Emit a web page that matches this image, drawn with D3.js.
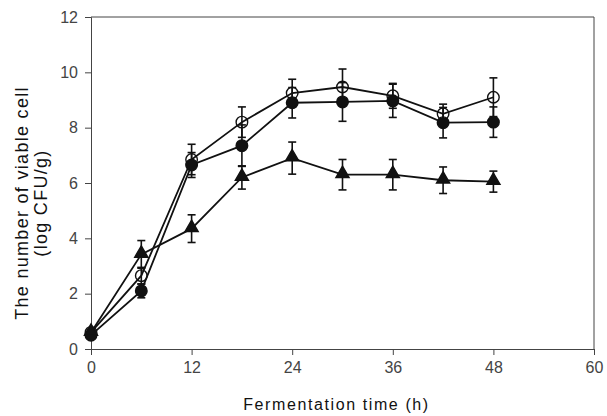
<!DOCTYPE html>
<html>
<head>
<meta charset="utf-8">
<script src="https://cdn.jsdelivr.net/npm/d3@7"></script>
<style>
  body { margin: 0; background: #fff; }
  .axis text { font-family: "Liberation Sans", Arial, sans-serif; font-size: 16px; fill: #444; }
  .axis path, .axis line { stroke: #444; }
  .title { font-family: "Liberation Sans", Arial, sans-serif; fill: #111; }
</style>
</head>
<body>
<div id="chart"></div>
<script>
(function () {

  var hours = [0, 6, 12, 18, 24, 30, 36, 42, 48]
  var xTicks = [0, 12, 24, 36, 48, 60]
  var yTicks = [0, 2, 4, 6, 8, 10, 12]

  // open circles
  var openMean = [0.6, 2.65, 6.85, 8.2, 9.25, 9.47, 9.15, 8.5, 9.1]
  var openErr  = [0.1, 0.3, 0.55, 0.55, 0.5, 0.65, 0.45, 0.35, 0.7]
  // filled circles
  var fillMean = [0.5, 2.1, 6.65, 7.35, 8.9, 8.93, 8.97, 8.18, 8.2]
  var fillErr  = [0.1, 0.25, 0.45, 0.75, 0.55, 0.7, 0.6, 0.55, 0.55]
  // triangles
  var triMean  = [0.6, 3.42, 4.35, 6.2, 6.9, 6.3, 6.3, 6.1, 6.05]
  var triErr   = [0.1, 0.5, 0.5, 0.42, 0.58, 0.55, 0.55, 0.48, 0.38]

  var margin = { top: 17, right: 13, bottom: 67, left: 91 }
  var width = 607 - margin.left - margin.right,
      height = 416 - margin.top - margin.bottom

  var svg = d3.select("#chart").append("svg")
    .attr("width", width + margin.left + margin.right)
    .attr("height", height + margin.top + margin.bottom)
    .append("g")
    .attr("transform", "translate(" + margin.left + "," + margin.top + ")")

  var x = d3.scaleLinear().domain([0, 60]).range([0, width])
  var y = d3.scaleLinear().domain([0, 12]).range([height, 0])

  // frame (top and right)
  svg.append("path")
    .attr("d", "M0,0H" + width + "V" + height)
    .attr("fill", "none")
    .attr("stroke", "#444")

  svg.append("g")
    .attr("class", "axis x-axis")
    .attr("transform", "translate(0," + height + ")")
    .call(d3.axisBottom(x).tickValues(xTicks).tickSizeOuter(0).tickSize(6).tickPadding(7))

  svg.append("g")
    .attr("class", "axis y-axis")
    .call(d3.axisLeft(y).tickValues(yTicks).tickSizeOuter(0).tickSize(6).tickPadding(7))

  var series = [
    { mean: openMean, err: openErr, shape: "open" },
    { mean: fillMean, err: fillErr, shape: "fill" },
    { mean: triMean, err: triErr, shape: "tri" }
  ]

  var line = d3.line()
    .x(function (d) { return x(d.t) })
    .y(function (d) { return y(d.v) })

  series.forEach(function (s) {
    var pts = hours.map(function (t, i) { return { t: t, v: s.mean[i], e: s.err[i] } })

    svg.append("path")
      .datum(pts)
      .attr("d", line)
      .attr("fill", "none")
      .attr("stroke", "#111")
      .attr("stroke-width", 1.8)

    var eb = svg.append("g").selectAll("g").data(pts).enter().append("g")
      .attr("stroke", "#111").attr("stroke-width", 1.6)
    eb.append("line")
      .attr("x1", function (d) { return x(d.t) }).attr("x2", function (d) { return x(d.t) })
      .attr("y1", function (d) { return y(d.v + d.e) }).attr("y2", function (d) { return y(d.v - d.e) })
    eb.append("line")
      .attr("x1", function (d) { return x(d.t) - 4 }).attr("x2", function (d) { return x(d.t) + 4 })
      .attr("y1", function (d) { return y(d.v + d.e) }).attr("y2", function (d) { return y(d.v + d.e) })
    eb.append("line")
      .attr("x1", function (d) { return x(d.t) - 4 }).attr("x2", function (d) { return x(d.t) + 4 })
      .attr("y1", function (d) { return y(d.v - d.e) }).attr("y2", function (d) { return y(d.v - d.e) })

    var sym = s.shape === "tri"
      ? d3.symbol().type(d3.symbolTriangle).size(75)
      : d3.symbol().type(d3.symbolCircle).size(105)

    svg.append("g").selectAll("path").data(pts).enter().append("path")
      .attr("transform", function (d) { return "translate(" + x(d.t) + "," + (y(d.v) + (s.shape === "tri" ? -1 : 0)) + ")" })
      .attr("d", sym)
      .attr("fill", s.shape === "open" ? "none" : "#111")
      .attr("stroke", "#111")
      .attr("stroke-width", 1.4)
  })

  svg.append("text")
    .attr("class", "title")
    .attr("x", (x(0) + x(60)) / 2 - 6)
    .attr("y", height + 61)
    .attr("text-anchor", "middle")
    .style("font-size", "16px")
    .style("letter-spacing", "1.6px")
    .text("Fermentation  time (h)")

  var yt = svg.append("text")
    .attr("class", "title")
    .attr("transform", "translate(-63," + (height / 2 + 20) + ") rotate(-90)")
    .attr("text-anchor", "middle")
    .style("font-size", "18px")
    .style("letter-spacing", "1.3px")
  yt.append("tspan").attr("x", 0).attr("dy", 0).text("The number of viable cell")
  yt.append("tspan").attr("x", 0).attr("dy", 19).text("(log CFU/g)")

})()
</script>
</body>
</html>
